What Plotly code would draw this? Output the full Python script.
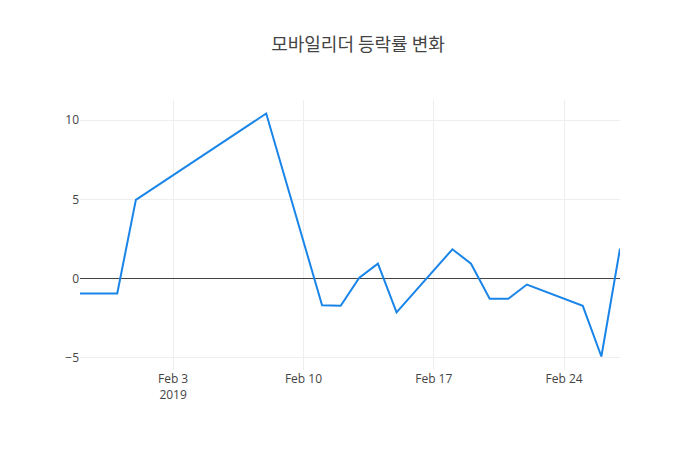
import plotly.graph_objs as go

# 모바일리더 daily change rate (%)
dates = [
    "2019-01-29", "2019-01-30", "2019-01-31", "2019-02-01", "2019-02-08",
    "2019-02-11", "2019-02-12", "2019-02-13", "2019-02-14", "2019-02-15",
    "2019-02-18", "2019-02-19", "2019-02-20", "2019-02-21", "2019-02-22",
    "2019-02-25", "2019-02-26", "2019-02-27",
]
change_rate = [
    -0.94, -0.94, -0.94, 4.97, 10.42,
    -1.69, -1.72, 0.05, 0.94, -2.14,
    1.85, 0.94, -1.28, -1.28, -0.38,
    -1.72, -4.92, 1.89,
]

fig = go.Figure()

fig.add_trace(go.Scatter(
    x=dates,
    y=change_rate,
    mode="lines",
    line=dict(color="rgb(26,133,232)", width=2),
))

# page body has an 8px margin, so shift the plot area back by that amount
fig.update_layout(
    template="none",
    width=700,
    height=450,
    title=dict(text="모바일리더 등락률 변화", x=0.5, xanchor="center",
               y=0.918, yanchor="middle",
               font=dict(family="Noto Sans CJK KR, Open Sans", size=18, color="#444")),
    font=dict(family="Open Sans, Noto Sans CJK KR", size=12, color="#444"),
    margin=dict(l=72, r=88, t=92, b=88),
    paper_bgcolor="white",
    plot_bgcolor="white",
    showlegend=False,
    xaxis=dict(type="date", gridcolor="#eee", showline=False, zeroline=False),
    yaxis=dict(gridcolor="#eee", zeroline=True, zerolinecolor="#444", zerolinewidth=1,
               showline=False, dtick=5),
)

fig.write_html("out.html")
